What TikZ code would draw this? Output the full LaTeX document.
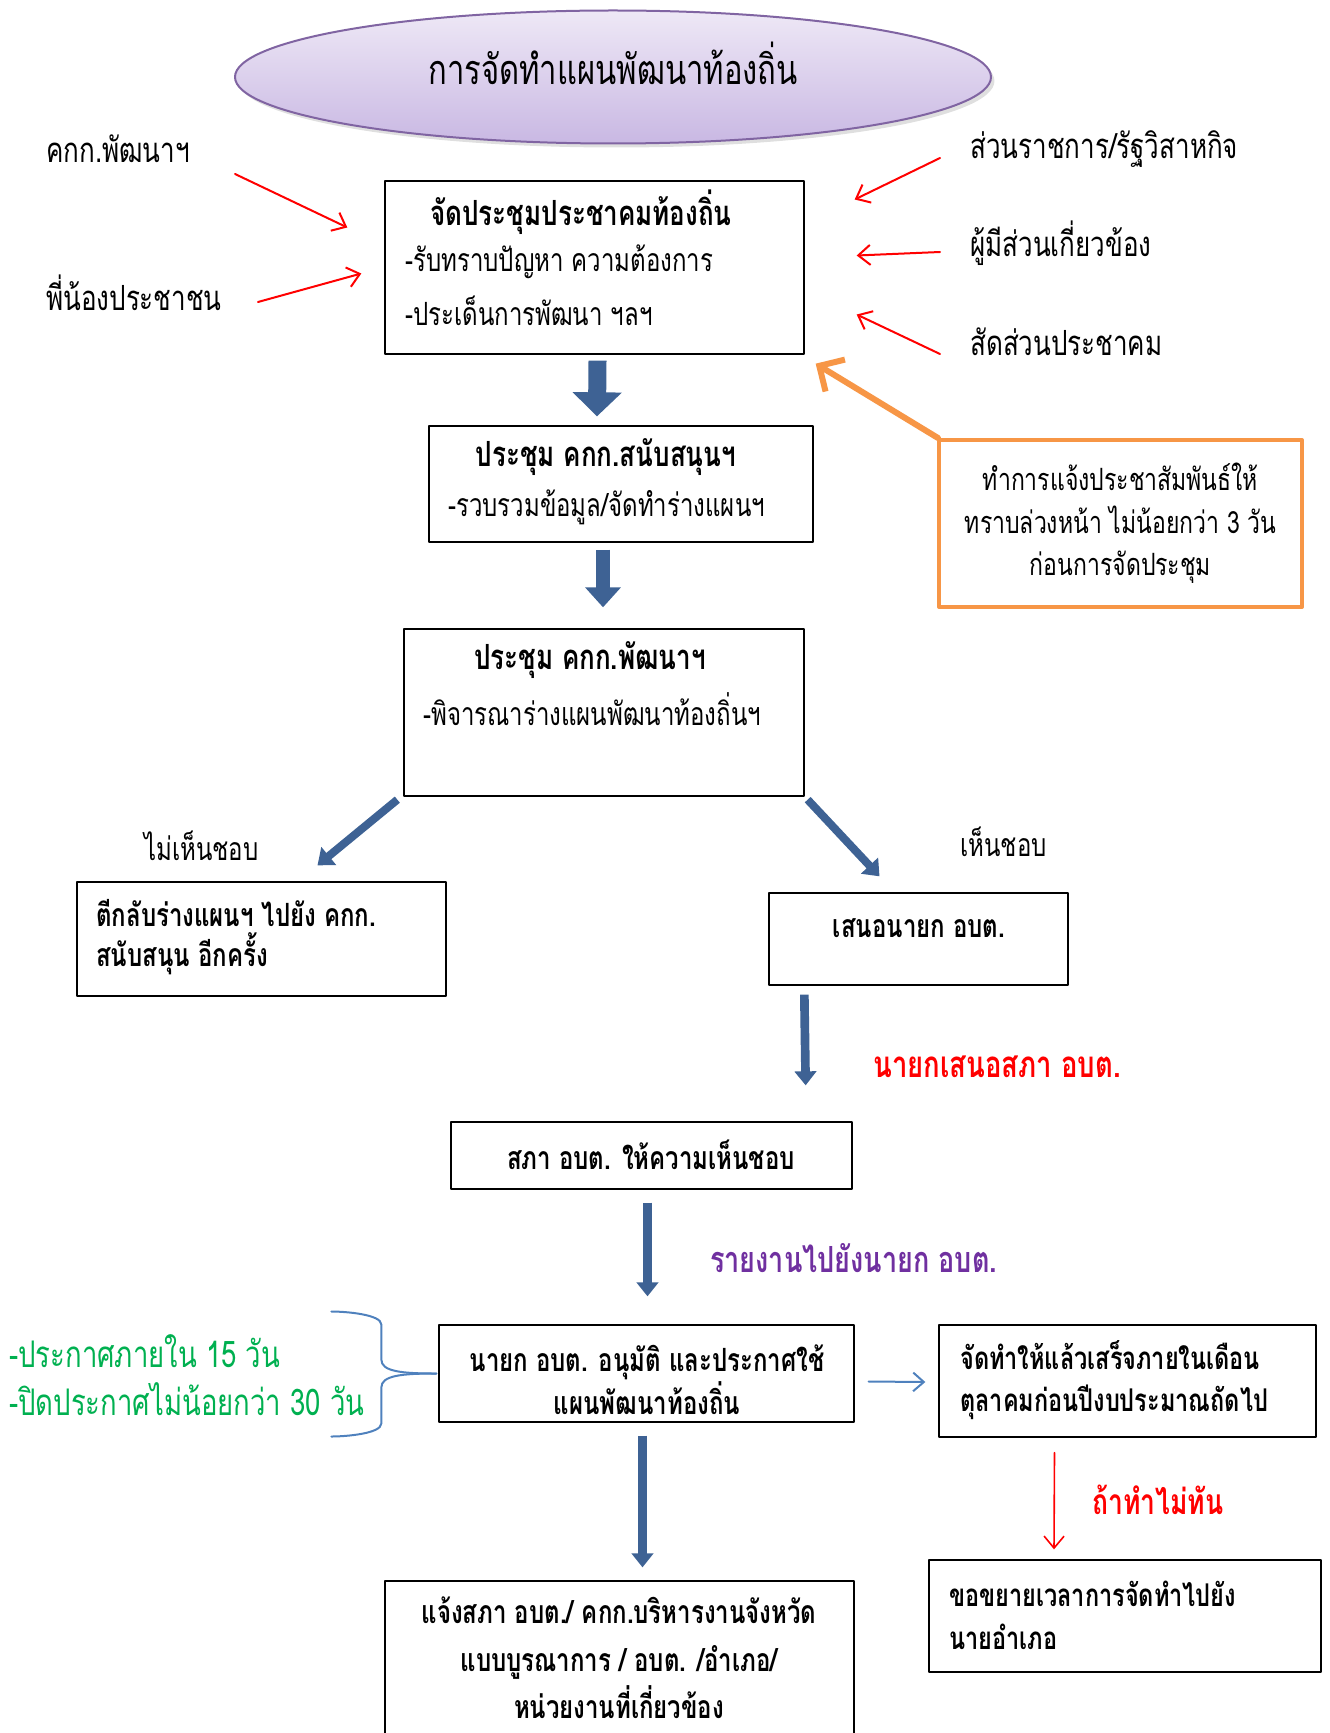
\documentclass[tikz,border=0pt]{standalone}
\usepackage{fontspec}
\setmainfont[Script=Thai,FakeStretch=0.75]{Loma}
\usetikzlibrary{arrows.meta,shapes.geometric,shadows}
\definecolor{redarr}{RGB}{255,0,0}
\definecolor{orangearr}{RGB}{247,150,70}
\definecolor{bluearr}{RGB}{62,98,148}
\definecolor{bluethin}{RGB}{79,129,189}
\definecolor{greentxt}{RGB}{0,176,80}
\definecolor{purpletxt}{RGB}{112,48,160}
\definecolor{ovaltop}{RGB}{238,232,246}
\definecolor{ovalbot}{RGB}{201,184,227}
\definecolor{ovalline}{RGB}{128,100,162}
\begin{document}
\begin{tikzpicture}[x=0.75pt,y=-0.75pt,line cap=round,line join=round,
  box/.style={draw,line width=1pt,fill=white,inner sep=0pt},
  lab/.style={anchor=west,inner sep=0pt,font=\fontsize{26}{30}\selectfont},
  head/.style={inner sep=0pt,font=\bfseries\fontsize{26}{30}\selectfont},
  body/.style={anchor=west,inner sep=0pt,font=\fontsize{24}{28}\selectfont},
  redline/.style={draw=redarr,line width=1.5pt,-{Straight Barb[length=9pt,width=15pt]}},
  blockarr/.style={draw=bluearr,line cap=butt}]
\useasboundingbox (0,0) rectangle (1330,1733);
\clip (0,0) rectangle (1330,1733);
\node[ellipse,draw=ovalline,line width=1.5pt,top color=ovaltop,bottom color=ovalbot,minimum width=567pt,minimum height=99.75pt,drop shadow={opacity=0.25,shadow yshift=-3pt}] (oval) at (613,77) {};
\node[inner sep=0pt,font=\fontsize{31}{34}\selectfont] (title) at (613,63) {การจัดทำแผนพัฒนาท้องถิ่น};
\node[lab] (lkkk) at (46,149) {คกก.พัฒนาฯ};
\node[lab] (lpeople) at (46,293) {พี่น้องประชาชน};
\node[lab] (lgov) at (970,149) {ส่วนราชการ/รัฐวิสาหกิจ};
\node[lab] (lstake) at (970,243) {ผู้มีส่วนเกี่ยวข้อง};
\node[lab] (lshare) at (970,342) {สัดส่วนประชาคม};
\node[box,minimum width=314.25pt,minimum height=129.75pt] (meet) at (594.5,267.5) {};
\node[head] (meett) at (581,212) {จัดประชุมประชาคมท้องถิ่น};
\node[body] (meeta) at (405,262) {-รับทราบปัญหา ความต้องการ};
\node[body] (meetb) at (405,311) {-ประเด็นการพัฒนา ฯลฯ};
\node[box,minimum width=288pt,minimum height=87pt] (support) at (621,484) {};
\node[head] (supportt) at (606,457) {ประชุม คกก.สนับสนุนฯ};
\node[body] (supporta) at (448,507) {-รวบรวมข้อมูล/จัดทำร่างแผนฯ};
\node[draw=orangearr,line width=3pt,minimum width=272.25pt,minimum height=125.25pt,align=center,font=\fontsize{23}{32}\selectfont] (note) at (1120.5,523.5) {ทำการแจ้งประชาสัมพันธ์ให้\\ทราบล่วงหน้า ไม่น้อยกว่า 3 วัน\\ก่อนการจัดประชุม};
\node[box,minimum width=300pt,minimum height=125.25pt] (devcom) at (604,712.5) {};
\node[head] (devcomt) at (590,660) {ประชุม คกก.พัฒนาฯ};
\node[body] (devcoma) at (423,709) {-พิจารณาร่างแผนพัฒนาท้องถิ่นฯ};
\node[lab,font=\fontsize{24}{28}\selectfont] (lno) at (144,846) {ไม่เห็นชอบ};
\node[lab,font=\fontsize{24}{28}\selectfont] (lyes) at (960,842) {เห็นชอบ};
\node[box,minimum width=276.75pt,minimum height=85.5pt] (reject) at (261.5,939) {};
\node[head,anchor=west,align=left,font=\bfseries\fontsize{24}{30}\selectfont] (rejectt) at (96,937) {ตีกลับร่างแผนฯ ไปยัง คกก.\\สนับสนุน อีกครั้ง};
\node[box,minimum width=224.25pt,minimum height=69pt] (propose) at (918.5,939) {};
\node[head,font=\bfseries\fontsize{24}{28}\selectfont] (proposet) at (919,928) {เสนอนายก อบต.};
\node[head,anchor=west,text=redarr,font=\bfseries\fontsize{27.5}{30}\selectfont] (lpropose) at (873,1067) {นายกเสนอสภา อบต.};
\node[box,minimum width=300.75pt,minimum height=50.25pt] (council) at (651.5,1155.5) {};
\node[head,font=\bfseries\fontsize{24}{28}\selectfont] (councilt) at (651,1155) {สภา อบต. ให้ความเห็นชอบ};
\node[head,anchor=west,text=purpletxt,font=\bfseries\fontsize{27}{30}\selectfont] (lreport) at (710,1258) {รายงานไปยังนายก อบต.};
\node[box,minimum width=311.25pt,minimum height=72.75pt] (approve) at (646.5,1373.5) {};
\node[head,align=center,font=\bfseries\fontsize{24}{32}\selectfont] (approvet) at (647,1380) {นายก อบต. อนุมัติ และประกาศใช้\\แผนพัฒนาท้องถิ่น};
\node[lab,align=left,text=greentxt,font=\fontsize{27.5}{36}\selectfont] (lannounce) at (9,1375) {-ประกาศภายใน 15 วัน\\-ปิดประกาศไม่น้อยกว่า 30 วัน};
\node[box,minimum width=282.75pt,minimum height=84pt] (deadline) at (1127.5,1381) {};
\node[head,anchor=west,align=left,font=\bfseries\fontsize{23.5}{32}\selectfont] (deadlinet) at (960,1380) {จัดทำให้แล้วเสร็จภายในเดือน\\ตุลาคมก่อนปีงบประมาณถัดไป};
\node[head,anchor=west,text=redarr,font=\bfseries\fontsize{26.5}{30}\selectfont] (llate) at (1092,1500) {ถ้าทำไม่ทัน};
\node[box,minimum width=294pt,minimum height=84pt] (extend) at (1125,1616) {};
\node[head,anchor=west,align=left,font=\bfseries\fontsize{23.5}{32}\selectfont] (extendt) at (949,1615) {ขอขยายเวลาการจัดทำไปยัง\\นายอำเภอ};
\node[box,minimum width=351.75pt,minimum height=134.25pt] (notify) at (619.5,1670.5) {};
\node[head,align=center,font=\bfseries\fontsize{24}{35.5}\selectfont] (notifyt) at (619,1658) {แจ้งสภา อบต./ คกก.บริหารงานจังหวัด\\แบบบูรณาการ / อบต. /อำเภอ/\\หน่วยงานที่เกี่ยวข้อง};
\draw[redline] ([shift={(189,25)}]lkkk.west) -- ([shift={(-37,-40)}]meet.west);
\draw[redline] ([shift={(212,9)}]lpeople.west) -- ([shift={(-23,6)}]meet.west);
\draw[redline] ([shift={(-30,9)}]lgov.west) -- ([shift={(50,-68)}]meet.east);
\draw[redline] ([shift={(-30,9)}]lstake.west) -- ([shift={(52,-12)}]meet.east);
\draw[redline] ([shift={(-30,12)}]lshare.west) -- ([shift={(52,47)}]meet.east);
\draw[draw=orangearr,line width=4.5pt,-{Straight Barb[length=14pt,width=28pt]}] ([shift={(1,0)}]note.north west) -- ([shift={(11,9)}]meet.south east);
\draw[blockarr,line width=13.5pt,-{Triangle[width=36pt,length=18pt]}] ([shift={(3,6)}]meet.south) -- ([shift={(-24,-9)}]support.north);
\draw[blockarr,line width=10pt,-{Triangle[width=26pt,length=15pt]}] ([shift={(-18,7)}]support.south) -- ([shift={(-1,-21)}]devcom.north);
\draw[blockarr,line width=6pt,-{Triangle[width=17pt,length=11pt]}] ([shift={(-6,3)}]devcom.south west) -- ([shift={(56,-16)}]reject.north);
\draw[blockarr,line width=6pt,-{Triangle[width=17pt,length=11pt]}] ([shift={(3,3)}]devcom.south east) -- ([shift={(-39,-16)}]propose.north);
\draw[blockarr,line width=6.5pt,-{Triangle[width=16pt,length=10.5pt]}] ([shift={(36,9)}]propose.south west) -- ([shift={(-47,-36)}]council.north east);
\draw[blockarr,line width=6.5pt,-{Triangle[width=16pt,length=10.5pt]}] ([shift={(-4,13)}]council.south) -- ([shift={(1,-28)}]approve.north);
\draw[blockarr,line width=6.5pt,-{Triangle[width=16pt,length=10.5pt]}] ([shift={(-4,13)}]approve.south) -- ([shift={(23,-13)}]notify.north);
\draw[draw=bluethin,line width=1.5pt,-{Straight Barb[length=8pt,width=14pt]}] ([shift={(14,8)}]approve.east) -- ([shift={(-13,1)}]deadline.west);
\draw[redline,line width=1.2pt] ([shift={(-73,15)}]deadline.south) -- ([shift={(-71,-10)}]extend.north);
\draw[draw=bluethin,line width=1.5pt] ([shift={(-2,0)}]approve.west) .. controls +(-35,0) and +(0,12) .. ++(-55,-14) -- ++(0,-35) .. controls +(0,-10) and +(15,0) .. ++(-50,-13);
\draw[draw=bluethin,line width=1.5pt] ([shift={(-2,0)}]approve.west) .. controls +(-35,0) and +(0,-12) .. ++(-55,14) -- ++(0,36) .. controls +(0,10) and +(15,0) .. ++(-50,13);
\end{tikzpicture}
\end{document}
